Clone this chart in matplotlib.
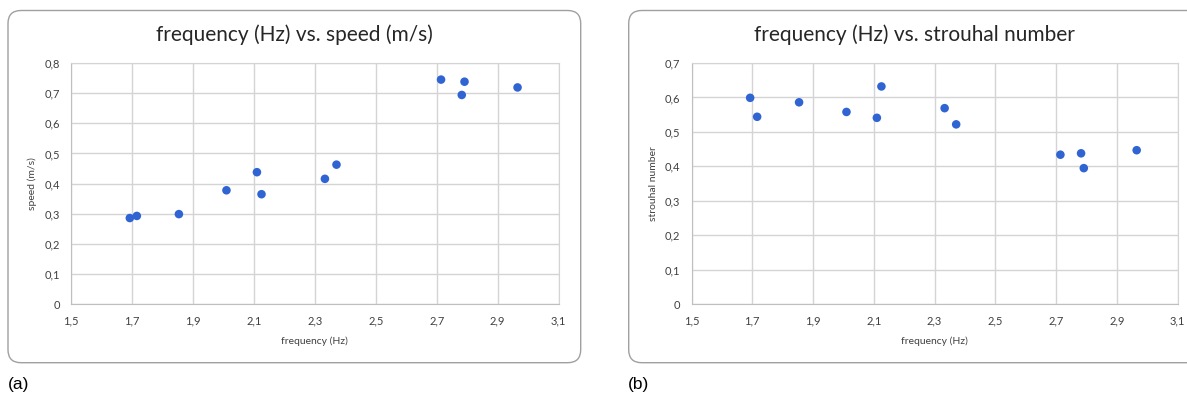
import matplotlib
matplotlib.use("Agg")
import matplotlib.pyplot as plt
from matplotlib.patches import FancyBboxPatch
from matplotlib.transforms import IdentityTransform
from matplotlib.ticker import FuncFormatter

# ---- data ----
freq = [1.693, 1.716, 1.854, 2.010, 2.110, 2.125, 2.333, 2.371, 2.714, 2.782, 2.791, 2.965]
speed = [0.286, 0.293, 0.299, 0.378, 0.438, 0.365, 0.416, 0.463, 0.745, 0.694, 0.738, 0.719]
strouhal = [0.599, 0.544, 0.586, 0.558, 0.541, 0.632, 0.569, 0.522, 0.434, 0.438, 0.395, 0.447]

x_ticks = [1.5, 1.7, 1.9, 2.1, 2.3, 2.5, 2.7, 2.9, 3.1]
speed_ticks = [0, 0.1, 0.2, 0.3, 0.4, 0.5, 0.6, 0.7, 0.8]
st_ticks = [0, 0.1, 0.2, 0.3, 0.4, 0.5, 0.6, 0.7]

W, H = 1187, 398
FONT = "Lato"
BLUE = "#2f64d2"
GRID = "#d4d4d4"
TXT = "#404040"


def comma(v, pos=None):
    s = f"{v:g}"
    return s.replace(".", ",")


def px_rect(x0, y_top, x1, y_bot):
    return [x0 / W, (H - y_bot) / H, (x1 - x0) / W, (y_bot - y_top) / H]


fig = plt.figure(figsize=(W / 100, H / 100), dpi=100)

# chart frames (rounded boxes, drawn in pixel coords)
for x0, x1 in [(8, 580.7), (628.7, 1215)]:
    box = FancyBboxPatch((x0, H - 362.7), x1 - x0, 352.2,
                         boxstyle="round,pad=0,rounding_size=13",
                         transform=IdentityTransform(), fill=False,
                         edgecolor="#a0a0a0", linewidth=1.0)
    fig.patches.append(box)


def scatter_panel(rect, y, yticks, ylabel, title, title_x, ylabel_x):
    ax = fig.add_axes(rect)
    ax.scatter(freq, y, s=38, color=BLUE, edgecolors="none", zorder=3)
    ax.set_xlim(x_ticks[0], x_ticks[-1])
    ax.set_ylim(yticks[0], yticks[-1])
    ax.set_xticks(x_ticks)
    ax.set_yticks(yticks)
    ax.xaxis.set_major_formatter(FuncFormatter(comma))
    ax.yaxis.set_major_formatter(FuncFormatter(comma))
    ax.grid(True, color=GRID, linewidth=1.0)
    ax.set_axisbelow(True)
    for side in ["top", "right"]:
        ax.spines[side].set_color(GRID)
    for side in ["left", "bottom"]:
        ax.spines[side].set_color("#bfbfbf")
    ax.tick_params(length=0, labelsize=8, labelcolor=TXT, pad=8)
    for lab in ax.get_xticklabels() + ax.get_yticklabels():
        lab.set_fontfamily(FONT)
    ax.set_xlabel("frequency (Hz)", fontsize=7.5, color=TXT, family=FONT, labelpad=7)
    fig.text(ylabel_x / W, 1 - 184 / H, ylabel, rotation=90, ha="center", va="center",
             fontsize=7.5, color=TXT, family=FONT)
    fig.text(title_x / W, 1 - 35 / H, title, ha="center", va="center",
             fontsize=15, color="#262626", family=FONT)
    return ax


scatter_panel(px_rect(71, 63, 558.7, 304.3), speed, speed_ticks, "speed (m/s)",
              "frequency (Hz) vs. speed (m/s)", 294, 32)
scatter_panel(px_rect(691.5, 63, 1177.7, 304.3), strouhal, st_ticks, "strouhal number",
              "frequency (Hz) vs. strouhal number", 914, 653)

fig.text(8 / W, 1 - 384 / H, "(a)", ha="left", va="center", fontsize=12.5,
         family="Liberation Sans", color="black")
fig.text(628 / W, 1 - 384 / H, "(b)", ha="left", va="center", fontsize=12.5,
         family="Liberation Sans", color="black")

fig.savefig("out.png", dpi=100)
